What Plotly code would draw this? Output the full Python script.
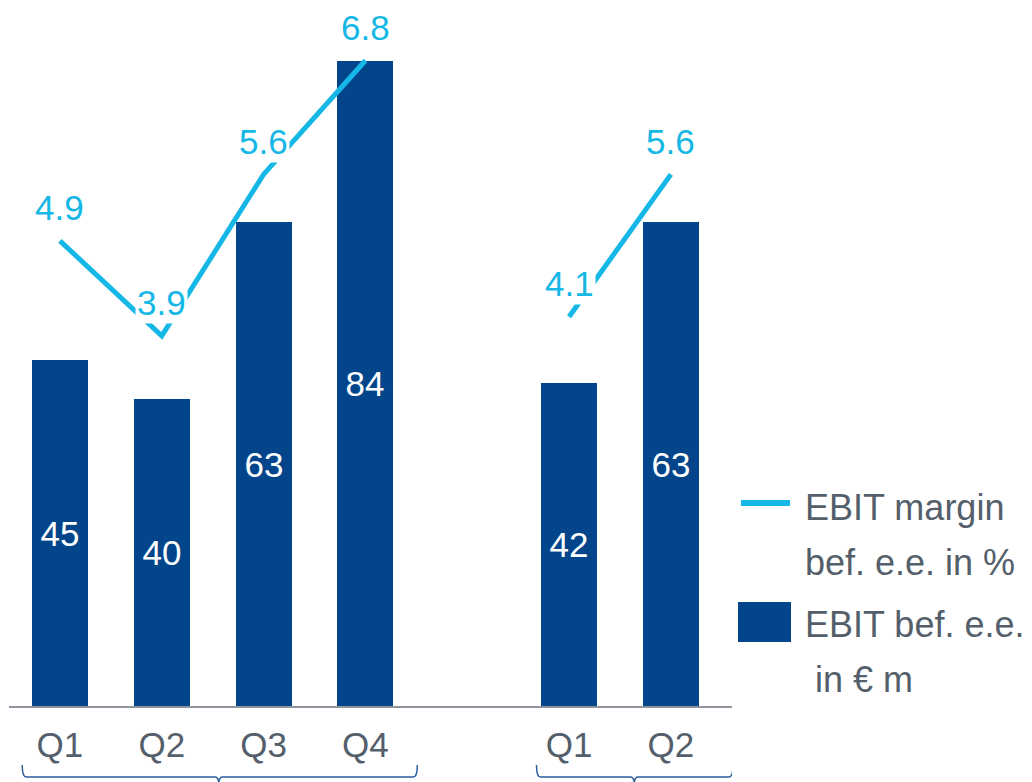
import plotly.graph_objects as go

# Quarter layout: four quarters of the first year, a gap, then two quarters of the next
quarters = ["Q1", "Q2", "Q3", "Q4", "Q1", "Q2"]
positions = [0, 1, 2, 3, 5, 6]
ebit_m = [45, 40, 63, 84, 42, 63]          # EBIT bef. e.e. in € m
margin_pct = [4.9, 3.9, 5.6, 6.8, 4.1, 5.6]  # EBIT margin bef. e.e. in %
year_groups = [[0, 1, 2, 3], [4, 5]]         # indices into the lists above

BAR_BLUE = "#02458B"
LINE_CYAN = "#14B7E5"
TEXT_GREY = "#545F6B"
FONT = "Arial, Liberation Sans, sans-serif"
FS = 35

W, H = 1032, 782
ML, MR, MT, MB = 9, 300, 0, 76
PW, PH = W - ML - MR, H - MT - MB


def pxx(px):
    return (px - ML) / PW


def pxy(py):
    return 1 - (py - MT) / PH


fig = go.Figure()

fig.add_trace(go.Bar(
    x=positions, y=ebit_m, width=0.55,
    marker=dict(color=BAR_BLUE, line=dict(width=0)),
    text=[str(v) for v in ebit_m], textposition="inside",
    insidetextanchor="middle", textangle=0, constraintext="none",
    textfont=dict(color="white", size=FS, family=FONT),
    showlegend=False, hoverinfo="skip",
))

# margin line, broken between the two years
lx, ly = [], []
for g_i, grp in enumerate(year_groups):
    if g_i:
        lx.append(None)
        ly.append(None)
    lx += [positions[i] for i in grp]
    ly += [margin_pct[i] for i in grp]
fig.add_trace(go.Scatter(
    x=lx, y=ly, yaxis="y2", mode="lines",
    line=dict(color=LINE_CYAN, width=5), connectgaps=False,
    showlegend=False, hoverinfo="skip",
))

annotations = []
for xp, v in zip(positions, margin_pct):
    annotations.append(dict(
        x=xp, y=v, xref="x", yref="y2", yshift=33, showarrow=False,
        text=f"{v:.1f}", bgcolor="white", borderpad=1,
        font=dict(color=LINE_CYAN, size=FS, family=FONT),
    ))

# legend drawn at the right
legend_text = [
    ("EBIT margin", 803, 507),
    ("bef. e.e. in %", 803, 562),
    ("EBIT bef. e.e.", 803, 624),
    (" in € m", 803, 679),
]
for t, px, py in legend_text:
    annotations.append(dict(
        x=pxx(px), y=pxy(py), xref="paper", yref="paper", xanchor="left",
        yanchor="middle", showarrow=False, text=t,
        font=dict(color=TEXT_GREY, size=36, family=FONT),
    ))

shapes = [
    dict(type="line", xref="paper", yref="paper",
         x0=pxx(741), x1=pxx(790), y0=pxy(503), y1=pxy(503),
         line=dict(color=LINE_CYAN, width=6)),
    dict(type="rect", xref="paper", yref="paper",
         x0=pxx(738), x1=pxx(791), y0=pxy(642), y1=pxy(602),
         fillcolor=BAR_BLUE, line=dict(width=0)),
]

# year braces under the quarter labels
y_top, y_bot, y_tip = pxy(765), pxy(777), pxy(784)
brace_spans = [(-0.37, 3.51, 1.56), (4.68, 6.61, 5.64)]
for x0, x1, xm in brace_spans:
    d = 0.04
    path = (f"M {x0},{y_top} Q {x0},{y_bot} {x0 + d},{y_bot} "
            f"L {xm - d},{y_bot} Q {xm},{y_bot} {xm},{y_tip} "
            f"Q {xm},{y_bot} {xm + d},{y_bot} "
            f"L {x1 - d},{y_bot} Q {x1},{y_bot} {x1},{y_top}")
    shapes.append(dict(type="path", xref="x", yref="paper", path=path,
                       line=dict(color="#2B5C9C", width=1.5)))

fig.update_layout(
    width=W, height=H, autosize=False,
    margin=dict(l=ML, r=MR, t=MT, b=MB, pad=0),
    paper_bgcolor="white", plot_bgcolor="white",
    bargap=0, showlegend=False,
    xaxis=dict(
        range=[-0.5, 6.6], tickvals=positions, ticktext=quarters,
        showline=True, linecolor="#8E959C", linewidth=2,
        ticks="outside", ticklen=7, tickcolor="rgba(0,0,0,0)",
        showgrid=False, zeroline=False,
        tickfont=dict(color=TEXT_GREY, size=FS, family=FONT),
    ),
    yaxis=dict(range=[0, 91.88], visible=False, showgrid=False),
    yaxis2=dict(range=[0, 7.437], overlaying="y", visible=False,
                showgrid=False),
    annotations=annotations,
    shapes=shapes,
)

fig.write_html("out.html")
